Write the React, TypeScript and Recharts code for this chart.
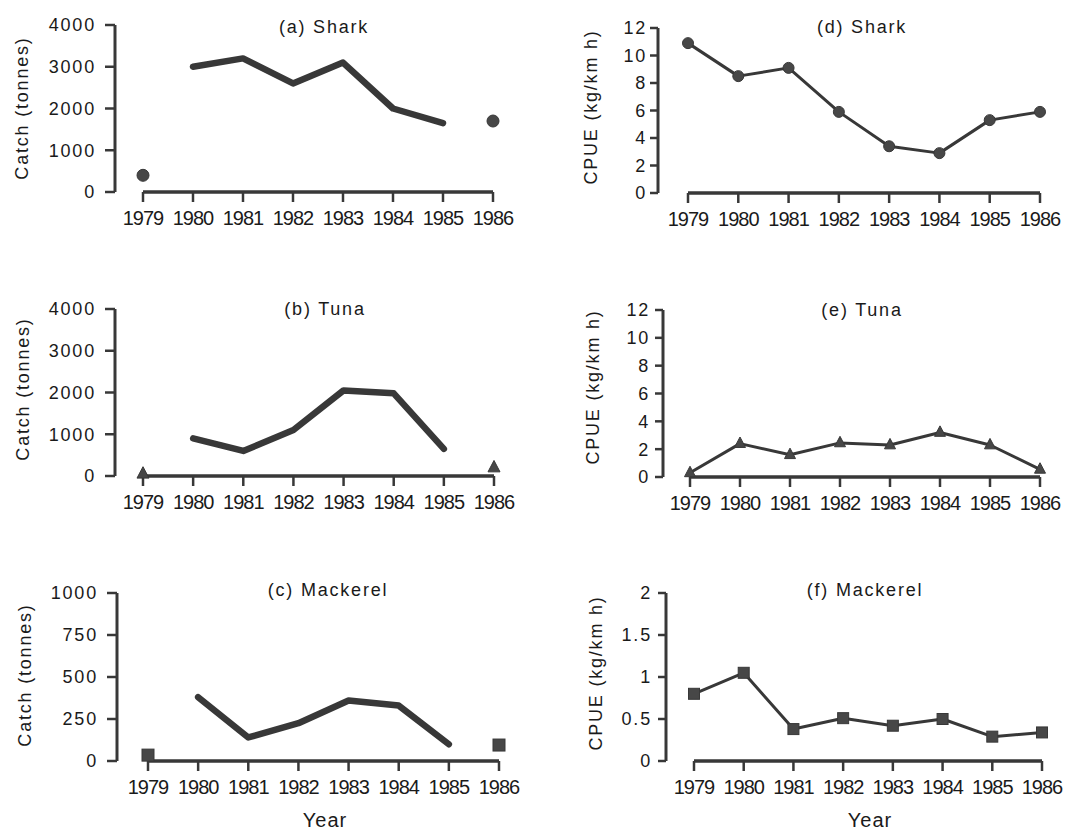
import React from 'react';
import { LineChart, Line, XAxis, YAxis } from 'recharts';

const years = [1979, 1980, 1981, 1982, 1983, 1984, 1985, 1986];
// catch years that are joined by the line (1979 and 1986 shown as lone markers)
const joinedYears = [1980, 1981, 1982, 1983, 1984, 1985];

const sharkCatch = [400, 3000, 3200, 2600, 3100, 2000, 1650, 1700];
const tunaCatch = [50, 900, 600, 1100, 2050, 1980, 650, 200];
const mackerelCatch = [35, 380, 140, 225, 360, 330, 100, 95];

const sharkCpue = [10.9, 8.5, 9.1, 5.9, 3.4, 2.9, 5.3, 5.9];
const tunaCpue = [0.3, 2.4, 1.6, 2.45, 2.3, 3.2, 2.3, 0.55];
const mackerelCpue = [0.8, 1.05, 0.38, 0.51, 0.42, 0.5, 0.29, 0.34];

const catchTicks = [0, 1000, 2000, 3000, 4000];
const mackerelCatchTicks = [0, 250, 500, 750, 1000];
const cpueTicks = [0, 2, 4, 6, 8, 10, 12];
const mackerelCpueTicks = [0, 0.5, 1, 1.5, 2];

const INK = '#383838';
const TEXT = '#1a1a1a';
const FONT = '"Liberation Sans", Arial, Helvetica, sans-serif';

type Marker = 'circle' | 'triangle' | 'square';

const makeDot = (marker: Marker, size: number) => (p: any) => {
  const { cx, cy, index, value } = p;
  if (cx == null || cy == null || value == null || isNaN(cy)) return <g key={`d${index}`} />;
  if (marker === 'circle') {
    return <circle key={`d${index}`} cx={cx} cy={cy} r={size} fill="#474747" stroke={INK} strokeWidth={1} />;
  }
  if (marker === 'triangle') {
    const s = size;
    return (
      <polygon
        key={`d${index}`}
        points={`${cx},${cy - s * 1.2} ${cx + s},${cy + s * 0.7} ${cx - s},${cy + s * 0.7}`}
        fill="#474747"
        stroke={INK}
        strokeWidth={1}
      />
    );
  }
  return (
    <rect key={`d${index}`} x={cx - size} y={cy - size} width={size * 2} height={size * 2} fill="#474747" stroke={INK} strokeWidth={1} />
  );
};

type PanelProps = {
  left: number;
  top: number;
  width: number;
  height: number;
  yAxisX: number;
  yTop: number;
  yZero: number;
  x0: number;
  x1: number;
  values: number[];
  yTicks: number[];
  kind: 'catch' | 'cpue';
  marker: Marker;
  yTickSize: number;
  yTickMargin: number;
};

function Panel(props: PanelProps) {
  const { left, top, width, height, yAxisX, yTop, yZero, x0, x1, values, yTicks, kind, marker, yTickSize, yTickMargin } = props;
  const rows = years.map((yr, i) => {
    const joined = kind === 'cpue' || joinedYears.includes(yr);
    return {
      year: yr,
      base: 0,
      line: joined ? values[i] : null,
      point: joined ? null : values[i],
    };
  });
  const xAxisHeight = 40;
  const margin = {
    top: yTop - top,
    left: 0,
    right: left + width - x1,
    bottom: top + height - yZero - xAxisHeight,
  };
  const yMax = yTicks[yTicks.length - 1];
  const dotSize = kind === 'catch' ? 6 : 5.5;
  return (
    <div style={{ position: 'absolute', left, top, width, height }}>
      <LineChart width={width} height={height} data={rows} margin={margin} style={{ overflow: 'visible' }}>
        <XAxis
          dataKey="year"
          type="number"
          domain={[1979, 1986]}
          ticks={years}
          interval={0}
          axisLine={{ stroke: INK, strokeWidth: 3 }}
          tickLine={{ stroke: INK, strokeWidth: 2.5 }}
          tickSize={10}
          tickMargin={9}
          height={xAxisHeight}
          tick={{ fontSize: 20, fill: TEXT, fontFamily: FONT, letterSpacing: -1 }}
        />
        <YAxis
          yAxisId="gap"
          type="number"
          domain={[0, yMax]}
          width={x0 - yAxisX}
          axisLine={false}
          tickLine={false}
          tick={false}
        />
        <YAxis
          yAxisId="main"
          type="number"
          domain={[0, yMax]}
          ticks={yTicks}
          interval={0}
          width={yAxisX - left}
          axisLine={{ stroke: INK, strokeWidth: 3 }}
          tickLine={{ stroke: INK, strokeWidth: 2.5 }}
          tickSize={yTickSize}
          tickMargin={yTickMargin}
          tick={{ fontSize: 18, fill: TEXT, fontFamily: FONT, letterSpacing: 1.8 }}
        />
        {/* x-axis baseline along zero, 1979-1986 */}
        <Line
          yAxisId="main"
          dataKey="base"
          stroke={INK}
          strokeWidth={3}
          dot={false}
          activeDot={false}
          isAnimationActive={false}
        />
        <Line
          yAxisId="main"
          dataKey="line"
          stroke={INK}
          strokeWidth={kind === 'catch' ? 6.5 : 3}
          strokeLinejoin="round"
          strokeLinecap="round"
          dot={kind === 'catch' ? false : makeDot(marker, dotSize)}
          activeDot={false}
          isAnimationActive={false}
        />
        {kind === 'catch' && (
          <Line
            yAxisId="main"
            dataKey="point"
            stroke="none"
            dot={makeDot(marker, dotSize)}
            activeDot={false}
            isAnimationActive={false}
          />
        )}
      </LineChart>
    </div>
  );
}

const Title = ({ text, cx, top }: { text: string; cx: number; top: number }) => (
  <div
    style={{
      position: 'absolute',
      left: cx - 100,
      top,
      width: 200,
      textAlign: 'center',
      fontFamily: FONT,
      fontSize: 18,
      lineHeight: '18px',
      letterSpacing: 1.8,
      color: TEXT,
      whiteSpace: 'nowrap',
    }}
  >
    {text}
  </div>
);

const YLabel = ({ text, cx, cy }: { text: string; cx: number; cy: number }) => (
  <div
    style={{
      position: 'absolute',
      left: cx - 1.4 - 100,
      top: cy - 10,
      width: 200,
      height: 20,
      lineHeight: '20px',
      textAlign: 'center',
      fontFamily: FONT,
      fontSize: 18,
      letterSpacing: 1.8,
      color: TEXT,
      whiteSpace: 'nowrap',
      transform: 'rotate(-90deg)',
    }}
  >
    {text}
  </div>
);

const XLabel = ({ text, cx, top }: { text: string; cx: number; top: number }) => (
  <div
    style={{
      position: 'absolute',
      left: cx - 60,
      top,
      width: 120,
      textAlign: 'center',
      fontFamily: FONT,
      fontSize: 20,
      lineHeight: '20px',
      letterSpacing: 1,
      color: TEXT,
    }}
  >
    {text}
  </div>
);

export default function App() {
  return (
    <div style={{ position: 'absolute', left: 0, top: 0, width: 1085, height: 831, background: '#fff' }}>
      <Panel left={0} top={0} width={540} height={270} yAxisX={115} yTop={25} yZero={192} x0={143} x1={493}
        values={sharkCatch} yTicks={catchTicks} kind="catch" marker="circle" yTickSize={10} yTickMargin={9} />
      <Panel left={0} top={280} width={540} height={270} yAxisX={115} yTop={309} yZero={476} x0={143} x1={494}
        values={tunaCatch} yTicks={catchTicks} kind="catch" marker="triangle" yTickSize={10} yTickMargin={9} />
      <Panel left={0} top={550} width={540} height={281} yAxisX={117} yTop={593} yZero={761} x0={148} x1={499}
        values={mackerelCatch} yTicks={mackerelCatchTicks} kind="catch" marker="square" yTickSize={10} yTickMargin={9} />
      <Panel left={545} top={0} width={540} height={270} yAxisX={658} yTop={28} yZero={193} x0={688} x1={1040}
        values={sharkCpue} yTicks={cpueTicks} kind="cpue" marker="circle" yTickSize={8} yTickMargin={3} />
      <Panel left={545} top={280} width={540} height={270} yAxisX={663} yTop={310} yZero={477} x0={690} x1={1040}
        values={tunaCpue} yTicks={cpueTicks} kind="cpue" marker="triangle" yTickSize={8} yTickMargin={5} />
      <Panel left={545} top={550} width={540} height={281} yAxisX={666} yTop={593} yZero={761} x0={694} x1={1042}
        values={mackerelCpue} yTicks={mackerelCpueTicks} kind="cpue" marker="square" yTickSize={8} yTickMargin={6} />

      <Title text="(a) Shark" cx={324} top={18} />
      <Title text="(b) Tuna" cx={325} top={300} />
      <Title text="(c) Mackerel" cx={328} top={581} />
      <Title text="(d) Shark" cx={862} top={18} />
      <Title text="(e) Tuna" cx={862} top={301} />
      <Title text="(f) Mackerel" cx={865} top={581} />

      <YLabel text="Catch (tonnes)" cx={23} cy={108} />
      <YLabel text="Catch (tonnes)" cx={24} cy={389} />
      <YLabel text="Catch (tonnes)" cx={26} cy={675} />
      <YLabel text="CPUE (kg/km h)" cx={592} cy={107} />
      <YLabel text="CPUE (kg/km h)" cx={594} cy={387} />
      <YLabel text="CPUE (kg/km h)" cx={597} cy={673} />

      <XLabel text="Year" cx={325} top={810} />
      <XLabel text="Year" cx={870} top={810} />
    </div>
  );
}
